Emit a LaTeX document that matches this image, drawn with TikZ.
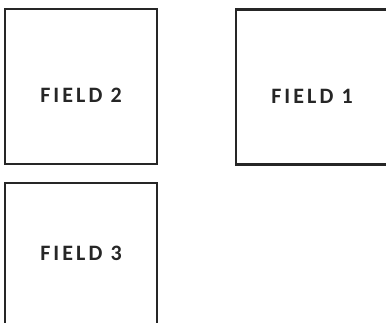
\documentclass[tikz,border=0pt]{standalone}
\usepackage{fontspec}
\setmainfont{Carlito}
\newfontfamily\fieldfont[LetterSpace=14]{Carlito}
\usetikzlibrary{positioning}

\begin{document}
\begin{tikzpicture}[
    x=1pt, y=-1pt,
    box/.style={
        draw=black!85, rectangle, line width=2.8pt,
        minimum width=152pt, minimum height=155pt,
        inner sep=0pt
    },
    lbl/.style={
        font=\fieldfont\bfseries\fontsize{22}{23}\selectfont,
        text=black!85, inner sep=0pt
    }
]

%% ---- Page frame (cuts off the boxes at the edges) ----
\path[use as bounding box, clip] (0,0) rectangle (386,322);

%% ---- Boxes ----
\node[box] at ( 81, 86.5) (field2) {};
\node[box] at (312, 87)   (field1) {};
\node[box] at ( 81, 260.5) (field3) {};

%% ---- Labels ----
\node[lbl] at ([yshift=-88pt]field2.north) (t2) {FIELD 2};
\node[lbl] at ([yshift=-88pt]field1.north) (t1) {FIELD 1};
\node[lbl] at ([yshift=-72pt]field3.north) (t3) {FIELD 3};

\end{tikzpicture}
\end{document}
